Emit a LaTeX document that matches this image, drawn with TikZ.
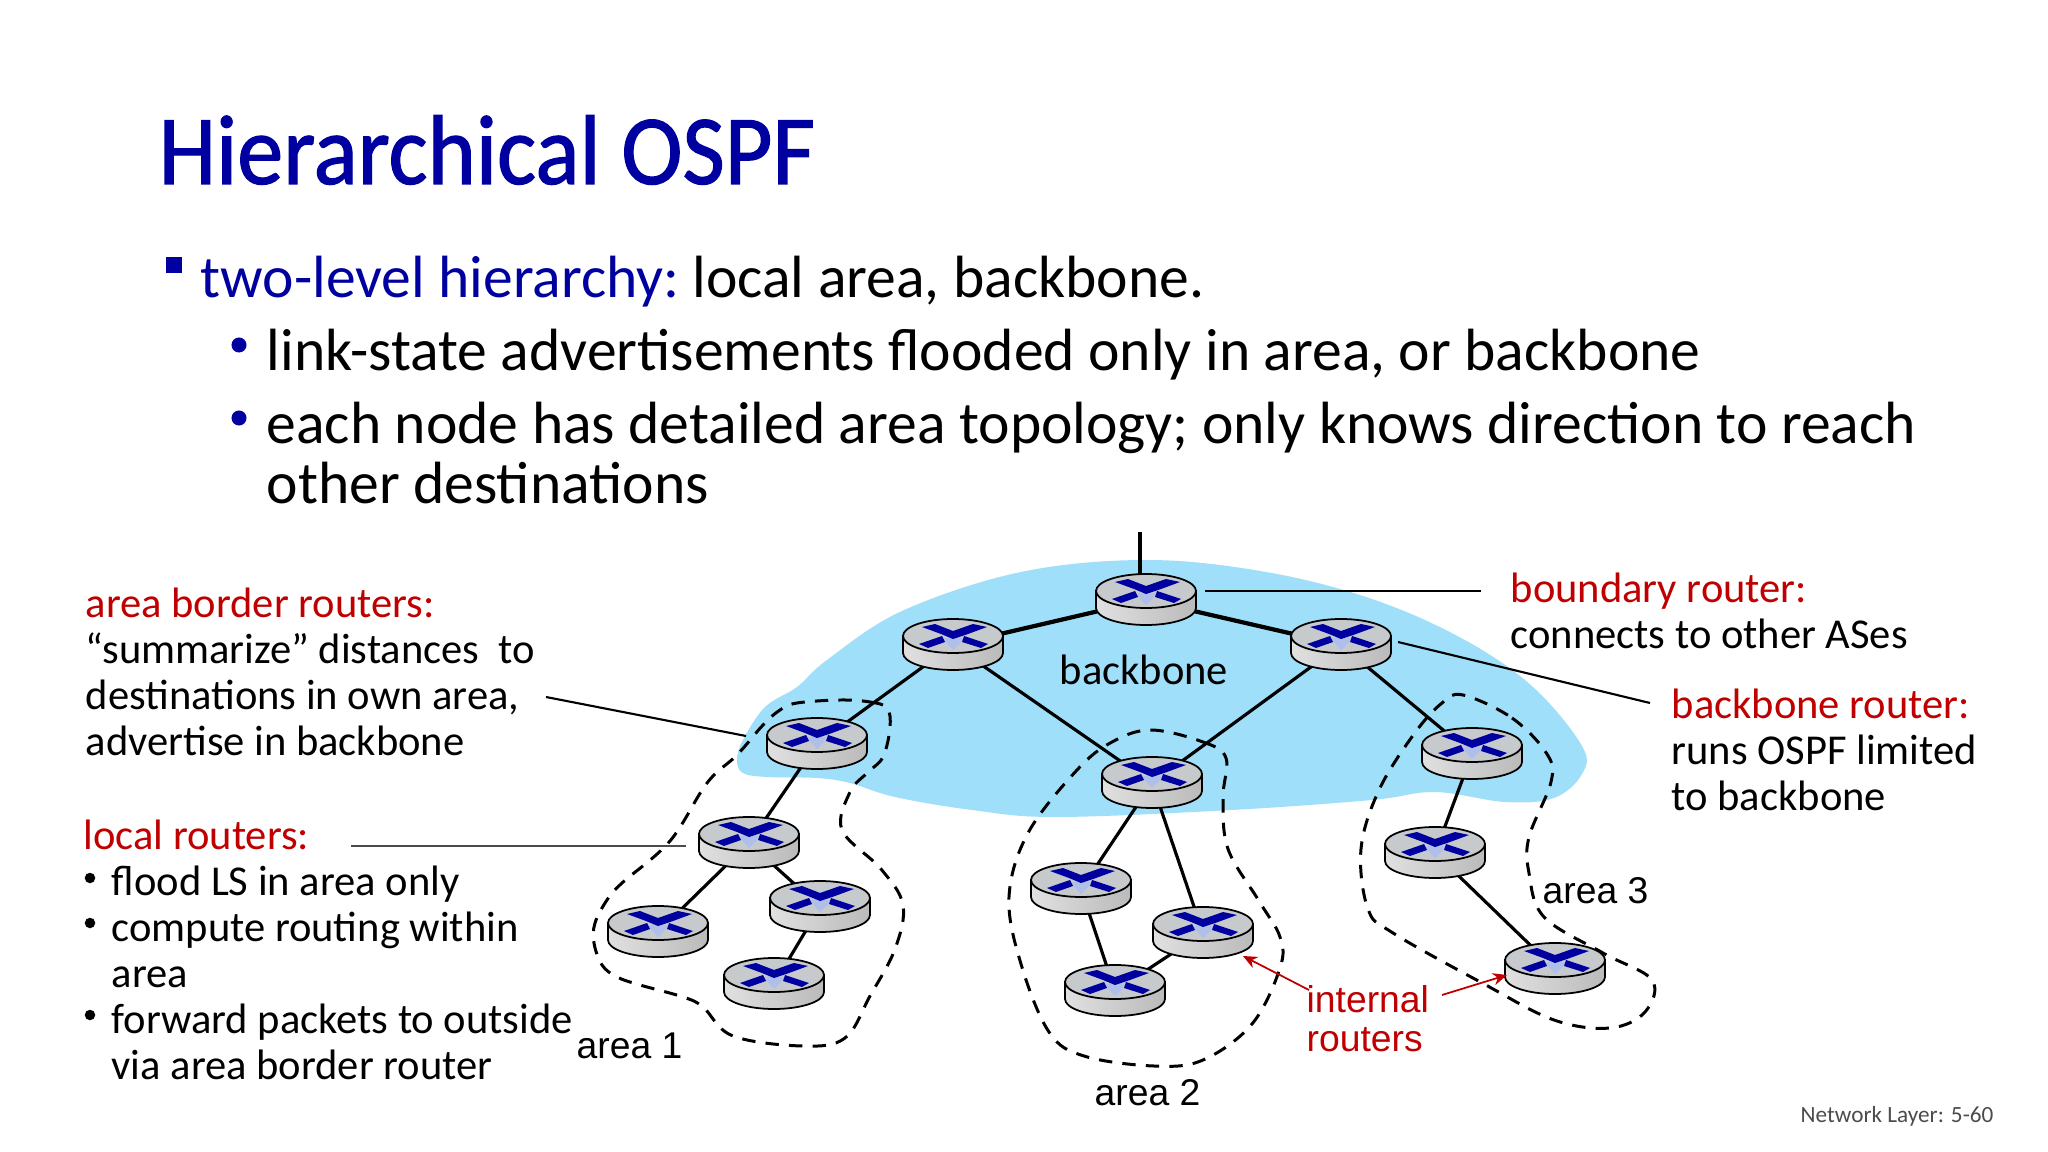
\documentclass[tikz,border=0pt]{standalone}
\usepackage{fontspec}
\setmainfont{Carlito}
\newfontfamily\arialfont{Liberation Sans}
\newfontfamily\titlefont{Carlito}[FakeStretch=0.93,FakeBold=1.2]
\usetikzlibrary{arrows.meta,backgrounds}
\definecolor{slideblue}{HTML}{0000A0}
\definecolor{slidered}{HTML}{C00000}
\definecolor{blobblue}{HTML}{9FDFF9}
\definecolor{routertop}{HTML}{C6CACC}
\definecolor{xpale}{HTML}{AFBFEA}
\tikzset{
  x=0.01cm, y=-0.01cm,
  titletext/.style={anchor=base west, inner sep=0pt, text=slideblue, font=\titlefont\fontsize{28.2}{34}\selectfont},
  bodytext/.style={anchor=base west, inner sep=0pt, font=\fontsize{16.95}{20.8}\selectfont},
  sidetext/.style={anchor=base west, inner sep=0pt, align=left, font=\fontsize{12.1}{13.2}\selectfont},
  figlabel/.style={anchor=base west, inner sep=0pt, align=left, font=\arialfont\fontsize{10.6}{11.4}\selectfont},
  pagenum/.style={anchor=base west, inner sep=0pt, text=black!70, font=\fontsize{6.6}{8}\selectfont},
  dotbullet/.style={circle, fill=slideblue, inner sep=0pt, minimum size=0.15cm},
  smalldot/.style={circle, fill=black, inner sep=0pt, minimum size=0.105cm},
  squarebullet/.style={rectangle, fill=slideblue, inner sep=0pt, minimum size=0.16cm},
  link/.style={line width=0.9pt},
  toplink/.style={line width=1.2pt},
  leader/.style={line width=0.6pt},
  areadash/.style={line width=0.85pt, dash pattern=on 3.8pt off 2.9pt},
  redarrow/.style={line width=0.5pt, slidered, -{Stealth[length=4pt,width=3.5pt]}},
  router/.style={rectangle, inner sep=0pt, minimum width=1.06cm, minimum height=0.58cm,
    path picture={
      \begin{scope}[shift={(path picture bounding box.center)}]
        \path[draw=black, line width=0.5pt, left color=black!12, right color=black!27]
          (-50,-9) -- (-50,8) arc[start angle=180, end angle=0, x radius=50, y radius=17]
          -- (50,-9) -- cycle;
        \path[draw=black, line width=0.5pt, fill=routertop] (0,-9) ellipse[x radius=50, y radius=17];
        \fill[xpale] (-10,-6) -- (0,-9) -- (11,-6) -- (0,5) -- cycle;
        \fill[slideblue] (-31,-18) -- (-18,-21) -- (0,-14) -- (20,-21) -- (34,-18) -- (15,-11) -- (0,-6) -- (-12,-11) -- cycle;
        \fill[slideblue] (-34,-1) -- (-11,-9) -- (-8,-3) -- (-25,3) -- cycle;
        \fill[slideblue] (11,-9) -- (35,-1) -- (28,3) -- (9,-3) -- cycle;
      \end{scope}
    }},
}
\begin{document}
\begin{tikzpicture}
\useasboundingbox (0,0) rectangle (2048,1152);
% backbone cloud
\begin{scope}[on background layer]
\fill[white] (0,0) rectangle (2048,1152);
\fill[blobblue] plot[smooth cycle, tension=0.6] coordinates {(1147,560) (1266,572) (1372,599) (1463,639) (1533,687) (1582,746) (1582,774) (1554,798) (1505,802) (1435,792) (1372,800) (1231,810) (1056,817) (972,810) (895,797) (850,783) (817,778) (767,777) (743,773) (737,760) (743,740) (765,707) (797,687) (827,660) (902,611) (1021,572)};
\end{scope}
% routers
\node[router] (rTop) at (1146,600) {};
\node[router] (rLeft) at (953,645) {};
\node[router] (rRight) at (1341,645) {};
\node[router] (rAreaA) at (817,744) {};
\node[router] (rAreaB) at (1152,783) {};
\node[router] (rAreaC) at (1472,754) {};
\node[router] (rA1) at (749,843) {};
\node[router] (rA2) at (658,932) {};
\node[router] (rA3) at (820,907) {};
\node[router] (rA4) at (774,984) {};
\node[router] (rB1) at (1081,889) {};
\node[router] (rB2) at (1203,933) {};
\node[router] (rB3) at (1115,991) {};
\node[router] (rC1) at (1435,853) {};
\node[router] (rC2) at (1555,969) {};
% links
\begin{scope}[on background layer]
\coordinate (stubTop) at (1140,532);
\draw[link] (stubTop) -- (stubTop |- rTop.center);
\draw[toplink] (rTop.center) -- (rLeft.center);
\draw[toplink] (rTop.center) -- (rRight.center);
\draw[link] (rLeft.center) -- (rAreaA.center);
\draw[link] (rLeft.center) -- (rAreaB.center);
\draw[link] (rRight.center) -- (rAreaB.center);
\draw[link] (rRight.center) -- (rAreaC.center);
\draw[link] (rAreaA.center) -- (rA1.center);
\draw[link] (rA1.center) -- (rA2.center);
\draw[link] (rA1.center) -- (rA3.center);
\draw[link] (rA3.center) -- (rA4.center);
\draw[link] (rAreaB.center) -- (rB1.center);
\draw[link] (rAreaB.center) -- (rB2.center);
\draw[link] (rB1.center) -- (rB3.center);
\draw[link] (rB2.center) -- (rB3.center);
\draw[link] (rAreaC.center) -- (rC1.center);
\draw[link] (rC1.center) -- (rC2.center);
% area outlines
\draw[areadash] plot[smooth cycle, tension=0.6] coordinates {(840,700) (870,702) (887,708) (890,727) (883,757) (867,773) (850,792) (842,830) (881,869) (903,905) (895,949) (870,996) (845,1038) (803,1046) (733,1036) (703,1007) (683,997) (640,985) (617,977) (602,965) (594,943) (595,923) (607,900) (622,883) (670,841) (707,783) (737,755) (763,725) (780,710) (797,703)};
\draw[areadash] plot[smooth cycle, tension=0.6] coordinates {(1151,730) (1203,742) (1226,758) (1223,798) (1228,849) (1259,901) (1280,937) (1280,968) (1252,1024) (1203,1060) (1154,1066) (1084,1056) (1049,1032) (1021,964) (1009,897) (1028,833) (1077,770) (1112,742)};
\draw[areadash] plot[smooth cycle, tension=0.6] coordinates {(1463,695) (1512,718) (1547,754) (1551,782) (1529,837) (1529,873) (1544,917) (1603,953) (1652,980) (1645,1012) (1610,1028) (1554,1020) (1484,984) (1393,933) (1368,909) (1361,849) (1379,790) (1414,734) (1442,703)};
\end{scope}
% title and bullets
\node[titletext] (title) at (158,184) {Hierarchical OSPF};
\node[squarebullet] (bulA) at (174,265) {};
\node[bodytext] (lineA) at (200,298) {\textcolor{slideblue}{two-level hierarchy:}\hspace{-0.05cm} local area, backbone.};
\node[dotbullet] (bulB) at (239,345) {};
\node[bodytext] (lineB) at (266,371) {link-state advertisements flooded only in area, or backbone};
\node[dotbullet] (bulC) at (239,418) {};
\node[bodytext] (lineC) at (266,444) {each node has detailed area topology; only knows direction to reach};
\node[bodytext] (lineD) at (266,504) {other destinations};
% left column
\node[sidetext] (borderTxt) at (85,617) {\textcolor{slidered}{area border routers:}};
\node[sidetext] (borderA) at (85,663) {“summarize” distances\ \ to};
\node[sidetext] (borderB) at (85,709) {destinations in own area,};
\node[sidetext] (borderC) at (85,755) {advertise in backbone};
\node[sidetext] (localTxt) at (83,849) {\textcolor{slidered}{local routers:}};
\node[smalldot] (dotA) at (90,878) {};
\node[sidetext] (localA) at (111,895) {flood LS in area only};
\node[smalldot] (dotB) at (90,923) {};
\node[sidetext] (localB) at (111,941) {compute routing within};
\node[sidetext] (localC) at (111,987) {area};
\node[smalldot] (dotC) at (90,1015) {};
\node[sidetext] (localD) at (111,1033) {forward packets to outside};
\node[sidetext] (localE) at (111,1079) {via area border router};
% right column
\node[sidetext] (boundaryTxt) at (1510,603) {\textcolor{slidered}{boundary router:}};
\node[sidetext] (boundaryA) at (1510,649) {connects to other ASes};
\node[sidetext] (backboneTxt) at (1671,718) {\textcolor{slidered}{backbone router:}};
\node[sidetext] (backboneA) at (1671,764) {runs OSPF limited};
\node[sidetext] (backboneB) at (1671,810) {to backbone};
% figure labels
\node[sidetext] (backboneLbl) at (1059,684) {backbone};
\node[figlabel] (areaOne) at (576,1058) {area 1};
\node[figlabel] (areaTwo) at (1094,1105) {area 2};
\node[figlabel] (areaThree) at (1542,903) {area 3};
\node[figlabel, text=slidered] (internalTxt) at (1306,1012) {internal};
\node[figlabel, text=slidered] (routersTxt) at (1306,1051) {routers};
\node[pagenum] (pageNo) at (1800,1122) {Network Layer: 5-60};
% leader lines
\coordinate (leadBoundaryA) at (1205,591);
\coordinate (leadBoundaryB) at (1481,591);
\draw[leader] (leadBoundaryA) -- (leadBoundaryB);
\coordinate (leadBackboneA) at (1398,642);
\coordinate (leadBackboneB) at (1650,703);
\draw[leader] (leadBackboneA) -- (leadBackboneB);
\coordinate (leadBorderA) at (546,697);
\coordinate (leadBorderB) at (746,736);
\draw[leader] (leadBorderA) -- (leadBorderB);
\coordinate (leadLocalA) at (351,846);
\coordinate (leadLocalB) at (686,846);
\draw[leader, black!70] (leadLocalA) -- (leadLocalB);
\coordinate (arrowTailA) at (1309,990);
\coordinate (arrowTipA) at (1243,956);
\draw[redarrow] (arrowTailA) -- (arrowTipA);
\coordinate (arrowTailB) at (1442,995);
\coordinate (arrowTipB) at (1507,975);
\draw[redarrow] (arrowTailB) -- (arrowTipB);
\end{tikzpicture}
\end{document}
